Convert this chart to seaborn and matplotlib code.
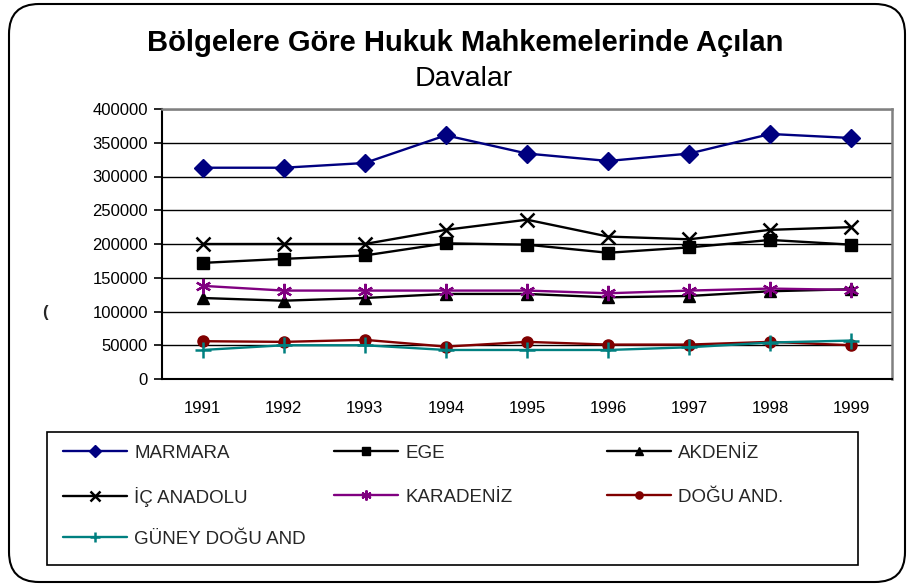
import matplotlib
matplotlib.use("Agg")
import matplotlib.pyplot as plt
import seaborn as sns
import pandas as pd
from matplotlib.patches import FancyBboxPatch, Rectangle
from matplotlib.ticker import FixedLocator, FuncFormatter

years = [1991, 1992, 1993, 1994, 1995, 1996, 1997, 1998, 1999]
regions = ["MARMARA", "EGE", "AKDENİZ", "İÇ ANADOLU", "KARADENİZ", "DOĞU AND.", "GÜNEY DOĞU AND"]
marmara = [313000, 313000, 320000, 361000, 334000, 323000, 334000, 363000, 357000]
ege = [172000, 178000, 183000, 201000, 199000, 187000, 195000, 206000, 199000]
akdeniz = [120000, 116000, 120000, 126000, 126000, 121000, 123000, 130000, 133000]
ic_anadolu = [200000, 200000, 200000, 221000, 236000, 211000, 207000, 221000, 225000]
karadeniz = [138000, 131000, 131000, 131000, 131000, 127000, 131000, 134000, 132000]
dogu = [56000, 55000, 58000, 48000, 55000, 51000, 51000, 55000, 50000]
guney_dogu = [43000, 50000, 50000, 43000, 43000, 43000, 47000, 54000, 57000]
y_ticks = [0, 50000, 100000, 150000, 200000, 250000, 300000, 350000, 400000]
title_line1 = "Bölgelere Göre Hukuk Mahkemelerinde Açılan"
title_line2 = "Davalar"

series = [marmara, ege, akdeniz, ic_anadolu, karadeniz, dogu, guney_dogu]
colors = ["#000080", "#000000", "#000000", "#000000", "#800080", "#800000", "#008080"]
markers = ["D", "s", "^", "x", (6, 2, 0), "o", "+"]
msizes = [9, 8, 9, 10, 11, 8, 11]
mews = [1, 1, 1, 1.8, 1.6, 1, 1.8]

sns.set_style("white")
plt.rcParams["font.family"] = ["Liberation Sans", "DejaVu Sans"]

W, H = 907, 585
fig = plt.figure(figsize=(W / 100, H / 100), dpi=100)
fig.patch.set_facecolor("white")
ax = fig.add_axes([162 / W, 1 - 379 / H, (892 - 162) / W, (379 - 109) / H])

for name, vals, c, m, ms, mw in zip(regions, series, colors, markers, msizes, mews):
    d = pd.DataFrame({"year": years, "value": vals})
    sns.lineplot(data=d, x="year", y="value", ax=ax, color=c, marker=m,
                 markersize=ms, markeredgewidth=mw, markeredgecolor=c,
                 linewidth=1.7, label=name)

handles, labels = ax.get_legend_handles_labels()
ax.get_legend().remove()

ax.set_xlim(years[0] - 0.5, years[-1] + 0.5)
ax.set_ylim(y_ticks[0], y_ticks[-1])
ax.set_xlabel("")
ax.set_ylabel("")
ax.xaxis.set_major_locator(FixedLocator(years))
ax.xaxis.set_minor_locator(FixedLocator([y + 0.5 for y in years]))
ax.yaxis.set_major_locator(FixedLocator(y_ticks))
ax.yaxis.set_major_formatter(FuncFormatter(lambda v, p: f"{int(v)}"))
ax.tick_params(axis="x", which="major", length=0, pad=16, labelsize=12, colors="black")
ax.tick_params(axis="x", which="minor", length=6, width=1.2, direction="out", color="black")
ax.tick_params(axis="y", length=6, width=1.2, direction="out", pad=4, labelsize=12, colors="black", left=True)
ax.grid(False)
ax.yaxis.grid(True, color="black", linewidth=1)
ax.set_axisbelow(True)
for s in ["left", "bottom"]:
    ax.spines[s].set_color("black")
    ax.spines[s].set_linewidth(1.5)
for s in ["top", "right"]:
    ax.spines[s].set_color("#808080")
    ax.spines[s].set_linewidth(1.8)

# titles
fig.text(465.5 / W, 1 - 43 / H, title_line1, ha="center", va="center",
         fontsize=21, fontweight="bold", color="black")
fig.text(464 / W, 1 - 79 / H, title_line2, ha="center", va="center",
         fontsize=20.5, color="black")

# stray mark (clipped axis title)
fig.text(45 / W, 1 - 312 / H, "(", ha="center", va="center", fontsize=12, fontweight="bold")

# legend: fixed grid of 3 columns x 3 rows, entries placed row by row
col_x = [63, 334, 607]
row_y = [453, 497, 539]
for i, (h, l) in enumerate(zip(handles, labels)):
    r, c = divmod(i, 3)
    fig.legend([h], [l], loc="center left",
               bbox_to_anchor=(col_x[c] / W, 1 - row_y[r] / H),
               frameon=False, borderpad=0, borderaxespad=0,
               handlelength=3.4, handletextpad=0.4,
               fontsize=13.5, markerscale=0.65)
fig.add_artist(Rectangle((47 / W, 1 - 565 / H), (858 - 47) / W, (565 - 432) / H,
                         transform=fig.transFigure, fill=False, ec="black", lw=1.2))

# outer rounded frame
frame = FancyBboxPatch((0.09, 0.03), 8.96, 5.78,
                       boxstyle="round,pad=0,rounding_size=0.3",
                       transform=fig.dpi_scale_trans, fill=False, ec="black", lw=1.5)
fig.add_artist(frame)

fig.savefig("out.png", dpi=100)
